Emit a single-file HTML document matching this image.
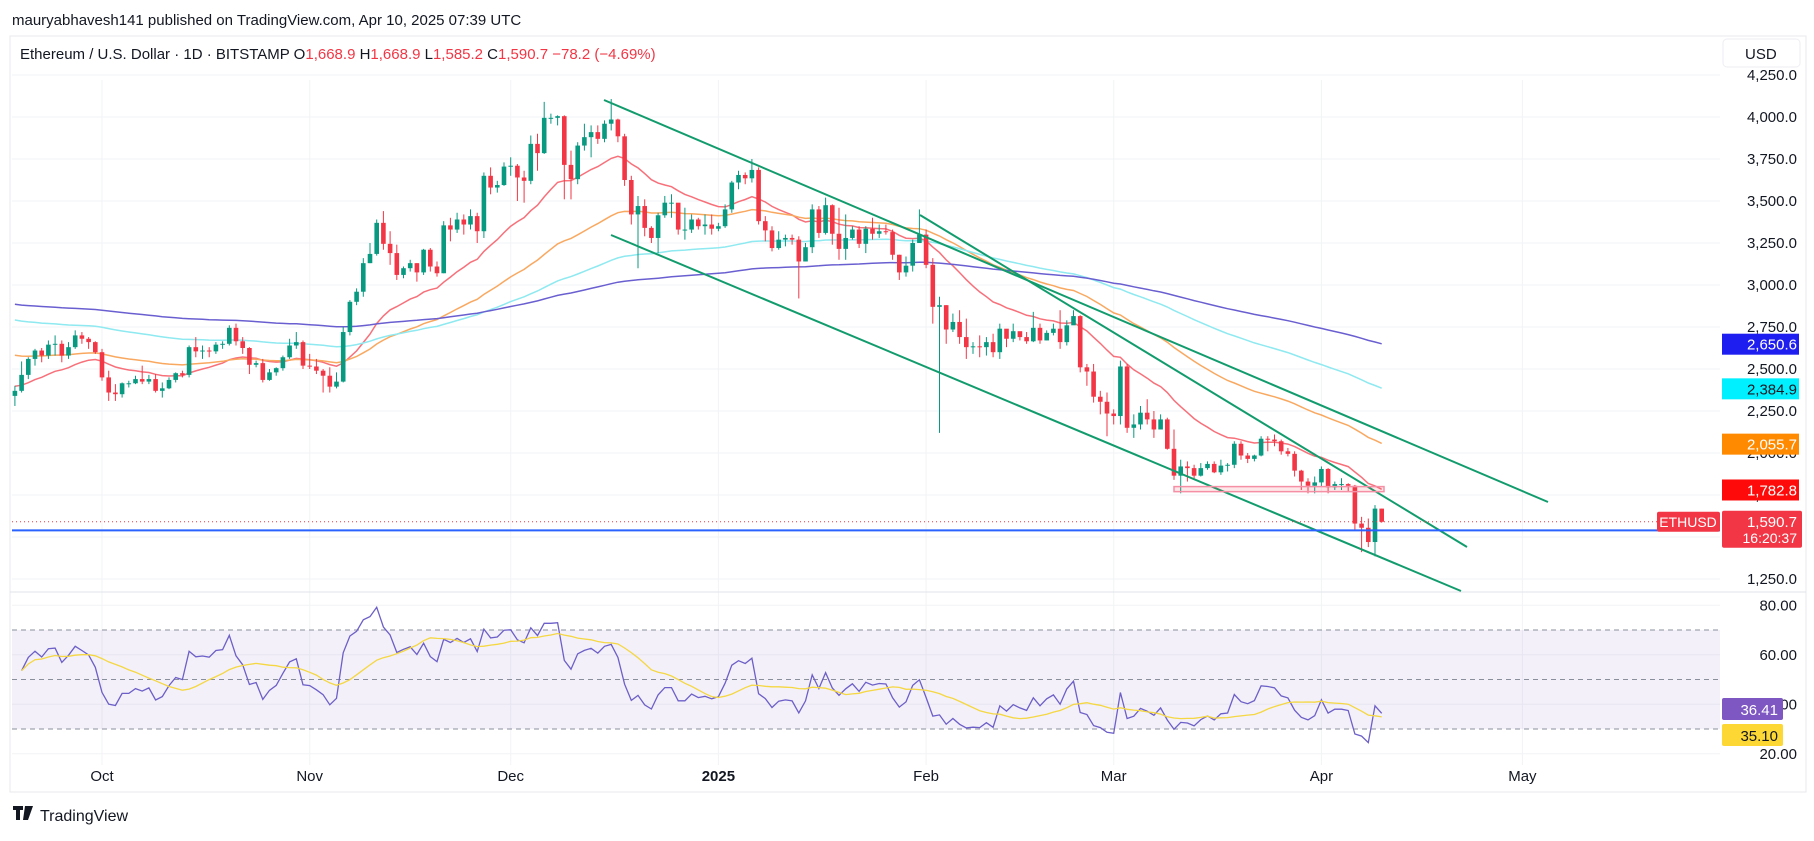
<!DOCTYPE html>
<html><head><meta charset="utf-8"><style>
body{margin:0;background:#fff;width:1814px;height:836px;overflow:hidden;font-family:"Liberation Sans",sans-serif}
svg text{font-family:"Liberation Sans",sans-serif}
</style></head><body>
<svg id="c" width="1814" height="836" xmlns="http://www.w3.org/2000/svg">
<rect x="0" y="0" width="1814" height="836" fill="#fff"/>
<text x="12" y="25" font-size="15" fill="#131722">mauryabhavesh141 published on TradingView.com, Apr 10, 2025 07:39 UTC</text>
<rect x="10" y="36" width="1796" height="756" fill="none" stroke="#e8e8ec"/>
<g id="grid"></g>
<g id="rsiBg"></g>
<g id="ma"></g>
<g id="candles"></g>
<g id="draw"></g>
<g id="rsi"></g>
<g id="axis"></g>
<text x="20" y="59" font-size="15" fill="#131722">Ethereum / U.S. Dollar · 1D · BITSTAMP  O<tspan fill="#f23645">1,668.9</tspan> H<tspan fill="#f23645">1,668.9</tspan> L<tspan fill="#f23645">1,585.2</tspan> C<tspan fill="#f23645">1,590.7</tspan> <tspan fill="#f23645">−78.2 (−4.69%)</tspan></text>
<g><rect x="13" y="806" width="10" height="4" fill="#131722"/><rect x="16" y="806" width="4" height="14" fill="#131722"/><polygon points="25,806 33,806 28,820 23,820" fill="#131722"/><text x="40" y="821" font-size="16" fill="#131722">TradingView</text></g>
</svg>
<script>
const closes=[2370,2465,2560,2610,2580,2645,2650,2580,2630,2700,2680,2660,2600,
2450,2360,2350,2415,2415,2440,2425,2440,2370,2385,2435,2475,2465,2630,2605,2610,2605,2645,2650,2745,2665,2625,2525,2535,2435,2480,2505,2570,2640,2660,2520,
2515,2490,2460,2395,2425,2720,2900,2960,3130,3185,3370,3245,3190,3060,3100,3130,3075,3210,3110,3070,3355,3330,3390,3360,3410,3320,3650,3580,3595,3705,
3710,3640,3620,3840,3785,3995,3995,4005,3715,3630,3830,3880,3910,3870,3960,3985,3885,3625,3420,3470,3340,3280,3415,3490,3490,3330,3330,3390,3350,3360,3335,
3350,3450,3610,3655,3635,3685,3380,3325,3220,3270,3280,3270,3140,3225,3450,3310,3475,3305,3215,3280,3330,3245,3335,3305,3320,3315,3180,3075,3115,3250,3300,
3120,2870,2880,2735,2780,2690,2630,2635,2630,2660,2600,2740,2680,2725,2690,2665,2745,2670,2715,2740,2660,2760,2815,2510,2485,2335,2305,2235,
2220,2515,2150,2170,2240,2200,2140,2200,2025,1865,1920,1910,1865,1910,1935,1885,1925,1930,2055,1985,1965,1985,2085,2080,2070,2010,1995,1895,1830,1805,1825,
1905,1795,1815,1815,1805,1580,1555,1470,1669,1590.7];
const highs=[2400,2545,2570,2620,2625,2670,2700,2670,2660,2730,2720,2690,2665,
2620,2490,2410,2420,2430,2460,2520,2465,2470,2420,2450,2480,2490,2640,2690,2640,2630,2660,2665,2760,2770,2690,2630,2550,2560,2500,2510,2580,2680,2720,2670,
2590,2560,2500,2510,2480,2750,2910,2980,3160,3250,3390,3440,3320,3240,3110,3150,3130,3215,3220,3140,3380,3400,3430,3420,3450,3430,3670,3700,3620,3730,
3760,3720,3680,3890,3900,4090,4020,4010,4010,3800,3850,3960,3950,3950,3980,4107,3990,3900,3650,3530,3510,3350,3430,3530,3540,3480,3460,3420,3400,3420,3420,
3370,3480,3620,3680,3670,3750,3700,3410,3350,3320,3300,3300,3290,3250,3480,3470,3520,3480,3460,3420,3350,3350,3350,3400,3360,3360,3330,3180,3170,3270,3450,
3330,3160,2930,2880,2830,2850,2800,2660,2700,2690,2710,2770,2720,2770,2720,2720,2840,2770,2730,2770,2850,2790,2850,2820,2530,2530,2370,2360,
2260,2550,2530,2230,2280,2320,2250,2230,2210,2140,1960,1950,1930,1940,1950,1950,1960,1940,2070,2070,2000,1990,2100,2100,2110,2080,2030,2010,1900,1850,1860,
1920,1910,1830,1850,1820,1810,1620,1610,1690,1668.9];
const lows=[2280,2360,2440,2520,2540,2560,2580,2540,2560,2620,2650,2620,2590,
2430,2310,2310,2330,2390,2410,2410,2410,2360,2330,2380,2420,2450,2450,2570,2560,2570,2590,2620,2640,2640,2590,2470,2510,2420,2430,2460,2490,2560,2620,2500,
2500,2470,2360,2360,2385,2420,2700,2880,2930,3130,3175,3210,3120,3030,3040,3080,3020,3060,3080,3050,3070,3260,3310,3300,3330,3250,3280,3540,3550,3590,
3650,3500,3490,3600,3680,3780,3960,3950,3510,3510,3600,3800,3760,3840,3850,3920,3850,3590,3360,3100,3290,3250,3190,3400,3400,3300,3270,3310,3330,3300,3300,
3320,3340,3430,3570,3600,3610,3360,3260,3200,3210,3230,3240,2920,3140,3190,3280,3300,3240,3150,3150,3270,3220,3190,3270,3280,3300,3150,3030,3050,3080,3250,
3100,2770,2120,2650,2720,2650,2560,2590,2570,2580,2570,2560,2630,2660,2670,2650,2660,2650,2670,2700,2620,2640,2770,2480,2400,2300,2230,2100,
2170,2170,2120,2090,2140,2170,2090,2170,2020,1840,1760,1830,1840,1860,1900,1880,1870,1890,1910,1960,1940,1950,1980,2010,2040,1990,1980,1860,1780,1760,1760,
1800,1760,1780,1780,1770,1540,1410,1440,1385,1585.2];
const firstOpen=2340;
const priceTicks=[4250,4000,3750,3500,3250,3000,2750,2500,2250,2000,1750,1500,1250];
const rsiTicks=[80,60,40,20];
const monthLabels=["Oct","Nov","Dec","2025","Feb","Mar","Apr","May"];
const monthDays=[0,31,61,92,123,151,182,212];
const maSeeds=[2400,2590,2800,2890];
const maLens=[20,50,100,200];
const maColors=["#f7707a","#f9a860","#8ee9f0","#6a5fd0"];
const rsiSeedGain=25, rsiSeedLoss=28;

const NS="http://www.w3.org/2000/svg";
const X0=102,PX=6.7,OFF=13,RIGHT=1720;
const xi=i=>X0+(i-OFF)*PX;
const xd=d=>X0+d*PX;
const yp=p=>117+(4000-p)*0.168;
const yr=v=>630+(70-v)*2.475;
function mk(tag,attrs,parent){const e=document.createElementNS(NS,tag);for(const k in attrs)e.setAttribute(k,attrs[k]);document.getElementById(parent).appendChild(e);return e;}
function fmt(v){return v.toLocaleString('en-US',{minimumFractionDigits:1,maximumFractionDigits:1});}

priceTicks.forEach(p=>{const l=mk('line',{x1:12,x2:RIGHT,y1:yp(p),y2:yp(p),stroke:'#f2f3f5'},'grid');

});
rsiTicks.forEach(v=>{const l=mk('line',{x1:12,x2:RIGHT,y1:yr(v),y2:yr(v),stroke:'#f2f3f5'},'grid');

});
monthDays.forEach(d=>{const l=mk('line',{x1:xd(d),x2:xd(d),y1:80,y2:765,stroke:'#f2f3f5'},'grid');

});
const sep=mk('line',{x1:10,x2:1806,y1:592,y2:592,stroke:'#e0e3eb'},'grid');



const band=mk('rect',{x:12,y:yr(70),width:RIGHT-12,height:yr(30)-yr(70),fill:'rgba(126,87,194,0.09)'},'rsiBg');


[70,50,30].forEach(v=>{const l=mk('line',{x1:12,x2:RIGHT,y1:yr(v),y2:yr(v),stroke:'#8a8f9c','stroke-dasharray':'5,4'},'rsiBg');

});

maLens.forEach((n,k)=>{let e=maSeeds[k];const a=2/(n+1);let pts=[];
closes.forEach((c,i)=>{e=e+a*(c-e);pts.push(xi(i).toFixed(1)+','+yp(e).toFixed(1));});
const pl=mk('polyline',{points:pts.join(' '),fill:'none',stroke:maColors[k],'stroke-width':1.5},'ma');

});

closes.forEach((c,i)=>{const o=i?closes[i-1]:firstOpen;const up=c>=o;const col=up?'#089981':'#f23645';const x=xi(i);
const w=mk('line',{x1:x,x2:x,y1:yp(highs[i]),y2:yp(lows[i]),stroke:col,'stroke-width':1},'candles');


const top=yp(Math.max(o,c)),bot=yp(Math.min(o,c));
const b=mk('rect',{x:x-2.3,y:top,width:4.6,height:Math.max(1,bot-top),fill:col},'candles');

});

[[604,100,1548,502],[611,235,1461,591],[920,215,1467,547]].forEach(s=>{const l=mk('line',{x1:s[0],y1:s[1],x2:s[2],y2:s[3],stroke:'#129c6e','stroke-width':2},'draw');

});
const pr=mk('rect',{x:1174,y:yp(1800),width:210,height:yp(1770)-yp(1800),fill:'rgba(242,54,69,0.12)',stroke:'#f58fa6','stroke-width':1.5},'draw');


const bl=mk('line',{x1:12,x2:RIGHT,y1:yp(1539.3),y2:yp(1539.3),stroke:'#2962ff','stroke-width':2},'draw');


const dl=mk('line',{x1:12,x2:RIGHT,y1:yp(1590.7),y2:yp(1590.7),stroke:'#f23645','stroke-dasharray':'1,3'},'draw');



let g=rsiSeedGain,l=rsiSeedLoss,rs=[];
for(let i=1;i<closes.length;i++){const d=closes[i]-closes[i-1];const up=Math.max(d,0),dn=Math.max(-d,0);
g=(g*13+up)/14;l=(l*13+dn)/14;
rs.push([i,l===0?100:100-100/(1+g/l)]);}
const rp=rs.map(r=>xi(r[0]).toFixed(1)+','+yr(r[1]).toFixed(1));
const rl=mk('polyline',{points:rp.join(' '),fill:'none',stroke:'#6c5fc7','stroke-width':1.3},'rsi');


let mp=[];rs.forEach((r,k)=>{const s=rs.slice(Math.max(0,k-13),k+1);const m=s.reduce((a,b)=>a+b[1],0)/s.length;mp.push(xi(r[0]).toFixed(1)+','+yr(m).toFixed(1));});
const ml=mk('polyline',{points:mp.join(' '),fill:'none',stroke:'#f5d742','stroke-width':1.3},'rsi');



priceTicks.forEach(p=>{const t=mk('text',{x:1797,y:yp(p)+5,'font-size':15,fill:'#131722','text-anchor':'end'},'axis');t.textContent=fmt(p);

});
rsiTicks.forEach(v=>{const t=mk('text',{x:1797,y:yr(v)+5,'font-size':15,fill:'#131722','text-anchor':'end'},'axis');t.textContent=v.toFixed(2);

});
monthLabels.forEach((m,k)=>{const t=mk('text',{x:xd(monthDays[k]),y:781,'font-size':15,fill:'#131722','text-anchor':'middle','font-weight':m==='2025'?'bold':'normal'},'axis');t.textContent=m;

});
const ub=mk('rect',{x:1723,y:39,width:77,height:28,rx:4,fill:'#fff',stroke:'#eceef2'},'axis');


const ut=mk('text',{x:1745,y:59,'font-size':15,fill:'#131722'},'axis');ut.textContent='USD';


const tags=[[2650.6,'#1e1ef0','#fff'],[2384.9,'#00f0ff','#131722'],[2055.7,'#ff8a00','#fff'],[1782.8,'#ff0a0a','#fff'],[1539.3,'#2962ff','#fff']];
tags.forEach(tg=>{const y=yp(tg[0]);const r=mk('rect',{x:1722,y:y-10,width:77,height:21,fill:tg[1]},'axis');


const t=mk('text',{x:1797,y:y+6,'font-size':15,fill:tg[2],'text-anchor':'end'},'axis');t.textContent=fmt(tg[0]);

});
const lp=mk('rect',{x:1722,y:yp(1590.7)-11,width:80,height:37,rx:2,fill:'#f23645'},'axis');


const lt1=mk('text',{x:1797,y:yp(1590.7)+5,'font-size':15,fill:'#fff','text-anchor':'end'},'axis');lt1.textContent='1,590.7';


const lt2=mk('text',{x:1797,y:yp(1590.7)+21,'font-size':14,fill:'#fff','text-anchor':'end'},'axis');lt2.textContent='16:20:37';


const sb=mk('rect',{x:1657,y:yp(1590.7)-10,width:63,height:20,rx:2,fill:'#f23645'},'axis');


const st=mk('text',{x:1688,y:yp(1590.7)+5,'font-size':14,fill:'#fff','text-anchor':'middle'},'axis');st.textContent='ETHUSD';


[[36.41,'#7e57c2','#fff',709],[35.10,'#fdd835','#131722',735]].forEach(tg=>{const r=mk('rect',{x:1722,y:tg[3]-11,width:61,height:22,rx:2,fill:tg[1]},'axis');


const t=mk('text',{x:1778,y:tg[3]+6,'font-size':15,fill:tg[2],'text-anchor':'end'},'axis');t.textContent=tg[0].toFixed(2);

});
</script>
</body></html>
